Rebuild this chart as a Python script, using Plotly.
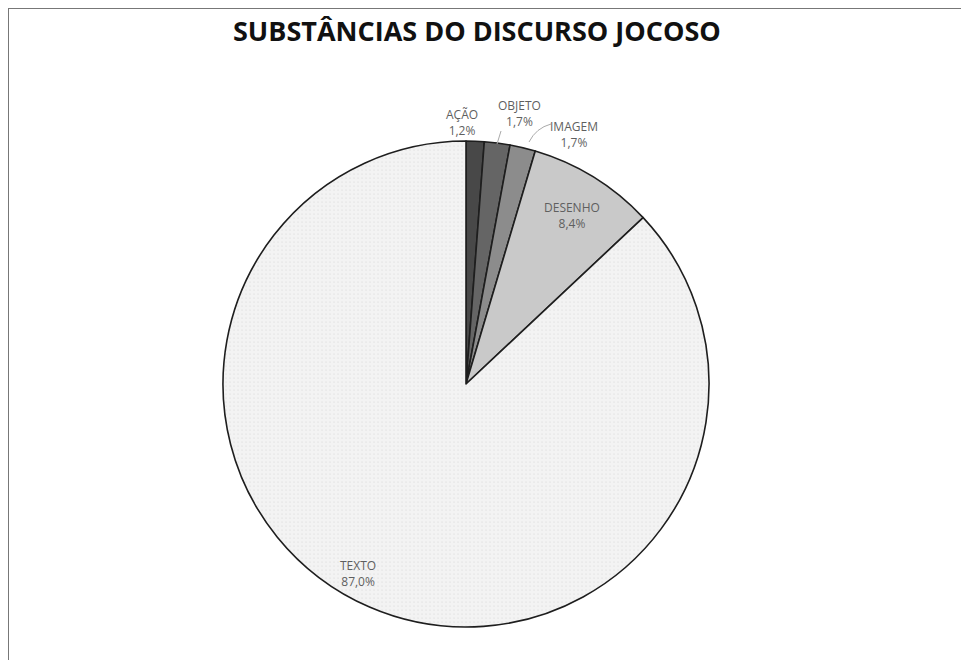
import plotly.graph_objects as go

labels = ["AÇÃO", "OBJETO", "IMAGEM", "DESENHO", "TEXTO"]
values = [1.2, 1.7, 1.7, 8.4, 87.0]
value_text = ["1,2%", "1,7%", "1,7%", "8,4%", "87,0%"]
colors = ["#484848", "#656565", "#8c8c8c", "#c9c9c9", "#f3f3f3"]

# figure sits inside the page body's default 8px margin
OFF = 8
W, H = 969 - OFF, 660 - OFF


def px(x):
    return (x - OFF) / W


def py(y):
    return 1 - (y - OFF) / H


cx, cy, r = 466, 384, 243

fig = go.Figure(go.Pie(
    labels=labels, values=values, sort=False, direction="clockwise", rotation=0,
    textinfo="none", hoverinfo="label+percent", showlegend=False,
    marker=dict(colors=colors, line=dict(color="#1e1e1e", width=1.6),
                pattern=dict(shape=["", "", "", "", "."], size=4, solidity=0.15,
                             fgcolor="#d6d6d6", fillmode="overlay")),
    domain=dict(x=[px(cx - r), px(cx + r)], y=[py(cy + r), py(cy - r)]),
))

label_pos = [(462, 123), (519, 114), (574, 135), (572, 216), (358, 573)]
annotations = []
for (x, y), lab, vt in zip(label_pos, labels, value_text):
    annotations.append(dict(x=px(x), y=py(y), xref="paper", yref="paper",
                            xanchor="center", yanchor="middle",
                            text=f"{lab}<br>{vt}", showarrow=False,
                            font=dict(family="Open Sans", size=12, color="#5f5f5f"),
                            align="center"))
annotations.append(dict(x=px(477), y=py(30), xref="paper", yref="paper",
                        xanchor="center", yanchor="middle",
                        text="<b>SUBSTÂNCIAS DO DISCURSO JOCOSO</b>", showarrow=False,
                        font=dict(family="Open Sans", size=27, color="#111111")))

shapes = [
    dict(type="line", xref="paper", yref="paper", x0=0, y0=1, x1=1, y1=1,
         line=dict(color="#777", width=2)),
    dict(type="line", xref="paper", yref="paper", x0=0, y0=1, x1=0, y1=0,
         line=dict(color="#777", width=2)),
    dict(type="line", xref="paper", yref="paper", x0=px(497), y0=py(144), x1=px(501), y1=py(131),
         line=dict(color="#aaa", width=1)),
    dict(type="path", xref="paper", yref="paper",
         path=f"M {px(529)},{py(142)} Q {px(536)},{py(128)} {px(551)},{py(124)}",
         line=dict(color="#aaa", width=1)),
]

fig.update_layout(width=W, height=H, margin=dict(l=0, r=0, t=0, b=0),
                  paper_bgcolor="white", plot_bgcolor="white",
                  annotations=annotations, shapes=shapes)
fig.write_html("out.html")
